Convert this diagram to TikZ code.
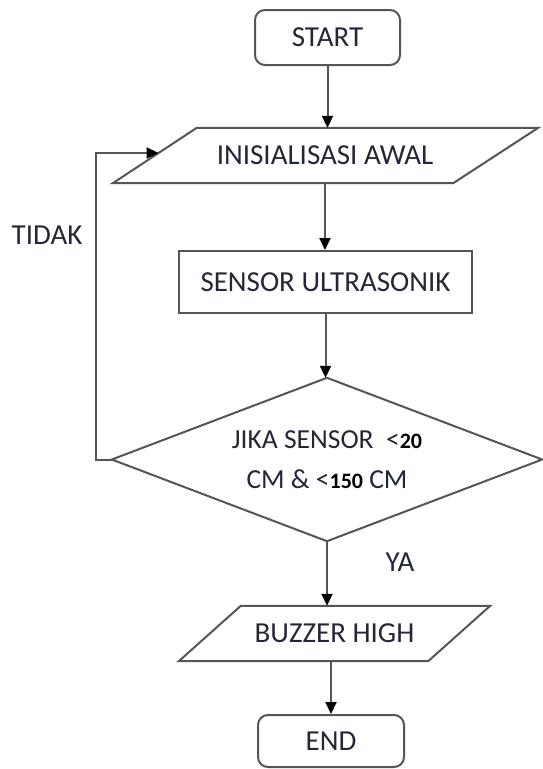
\documentclass[tikz,border=0pt]{standalone}
\usepackage{fontspec}
\setmainfont{Carlito}
\usetikzlibrary{arrows.meta,calc}
\definecolor{edge}{HTML}{555555}
\definecolor{txt}{HTML}{232838}
\newcommand{\numb}[1]{\textcolor{black}{\fontsize{22}{40}\selectfont\bfseries #1}}
\begin{document}
\begin{tikzpicture}[x=1pt,y=-1pt,
  every node/.style={font=\fontsize{29}{40}\selectfont, text=txt},
  box/.style={draw=edge, line width=2pt, inner sep=0pt},
  term/.style={box, rounded corners=10pt},
  ghost/.style={inner sep=0pt},
  outline/.style={draw=edge, line width=2pt, line join=miter},
  arr/.style={draw=edge, line width=2pt, -{Triangle[length=12pt,width=11pt,color=black]}}]
\useasboundingbox (0,0) rectangle (542,769);

% terminals and process blocks
\node[term, minimum width=145pt, minimum height=55pt] (start) at (327.5,37.5) {START};
\node[ghost, minimum width=340pt, minimum height=55pt] (init) at (325,155.5) {INISIALISASI AWAL};
\draw[outline] ([xshift=42pt]init.north west) -- ([xshift=43pt]init.north east)
  -- ([xshift=-42pt]init.south east) -- ([xshift=-42pt]init.south west) -- cycle;
\node[box, minimum width=293pt, minimum height=62pt] (sensor) at (325.5,282) {SENSOR ULTRASONIK};

% decision
\node[ghost, minimum width=430pt, minimum height=163pt, align=center,
  font=\fontsize{27.5}{40}\selectfont] (dec) at (327,459.5)
  {JIKA SENSOR\ \ <\numb{20}\\CM \& <\numb{150} CM};
\draw[outline] (dec.north) -- (dec.east) -- (dec.south) -- (dec.west) -- cycle;

\node[ghost, minimum width=249pt, minimum height=55pt] (buzz) at (334.5,633.5) {BUZZER HIGH};
\draw[outline] ([xshift=31pt]buzz.north west) -- ([xshift=31pt]buzz.north east)
  -- ([xshift=-31pt]buzz.south east) -- ([xshift=-31pt]buzz.south west) -- cycle;
\node[term, minimum width=146pt, minimum height=52pt] (end) at (331,741) {END};

% branch labels
\node (tidak) at (47,235) {TIDAK};
\node (ya) at (400,562) {YA};

% connectors
\draw[arr] (start.south) -- (start.south |- init.north);
\draw[arr] (init.south) -- (init.south |- sensor.north);
\draw[arr] (sensor.south) -- (sensor.south |- dec.north);
\draw[arr] (dec.south) -- (dec.south |- buzz.north);
\draw[arr] (end.north |- buzz.south) -- (end.north);
\coordinate (entry) at ($([xshift=-42pt]init.south west)!0.545!([xshift=42pt]init.north west)$);
\draw[arr] (dec.west) -- ++(-16,0) |- (entry);
\end{tikzpicture}
\end{document}
